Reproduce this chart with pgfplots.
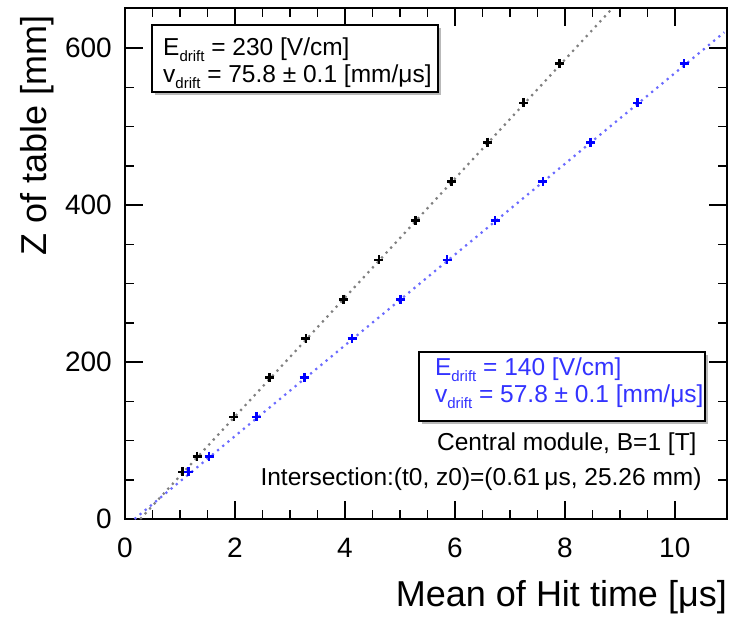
\documentclass[border=0pt]{standalone}
\usepackage{fontspec}
\setmainfont{Liberation Sans}
\usepackage{pgfplots}
\pgfplotsset{compat=1.18}
\definecolor{mblue}{rgb}{0,0,1}
\definecolor{lblue}{rgb}{0.42,0.42,1}
\definecolor{tblue}{rgb}{0.2,0.2,1}
\newcommand{\sub}[1]{\raisebox{-0.28em}{\fontsize{15}{15}\selectfont #1}}
\newcommand{\bfs}{\fontsize{24.5}{27}\selectfont}
\begin{document}
\begin{tikzpicture}
\useasboundingbox (0,0) rectangle (730pt,616pt);
\begin{axis}[
 at={(125pt,97pt)}, anchor=south west,
 scale only axis, width=602pt, height=511pt,
 xmin=0, xmax=10.95, ymin=0, ymax=651,
 xtick={0,2,...,10}, ytick={0,200,400,600},
 minor x tick num=3, minor y tick num=3,
 tick align=inside,
 major tick length=18pt, minor tick length=9pt,
 every tick/.style={black, line width=1.5pt},
 axis line style={line width=2pt},
 /pgf/number format/assume math mode=true,
 ticklabel style={font=\fontsize{28}{30}\selectfont, inner sep=0pt},
 xticklabel style={anchor=north, yshift=-19pt},
 yticklabel style={anchor=east, xshift=-13pt},
 xlabel={Mean of Hit time [μs]}, ylabel={Z of table [mm]},
 label style={font=\fontsize{36}{40}\selectfont, inner sep=0pt},
 xlabel style={at={(axis description cs:1,-0.1722)}, anchor=base east},
 ylabel style={at={(axis description cs:-0.1312,0.9863)}, anchor=base east},
]
\addplot[black!50, dash pattern={on 2.2pt off 4.5pt}, line width=2.2pt] coordinates {(0.277,0) (8.87,651)};
\addplot[lblue, dash pattern={on 2.2pt off 4.5pt}, line width=2.2pt] coordinates {(0.173,0) (10.9,620)};
\addplot[only marks, mark=+, mark size=4.5pt, black, line width=2.6pt] coordinates {
(1.05,60) (1.31,80) (1.98,130) (2.63,180) (3.29,230) (3.97,280) (4.62,330) (5.28,380) (5.94,430) (6.59,480) (7.25,530) (7.90,580)};
\addplot[only marks, mark=+, mark size=4.5pt, mblue, line width=2.6pt] coordinates {
(1.16,60) (1.53,80) (2.39,130) (3.26,180) (4.13,230) (5.01,280) (5.86,330) (6.73,380) (7.60,430) (8.47,480) (9.32,530) (10.17,580)};
% box 1
\fill[gray!55] (axis cs:0.545,625.5) rectangle (axis cs:5.745,540.1);
\draw[fill=white, line width=2pt] (axis cs:0.491,629.3) rectangle (axis cs:5.691,543.9);
\node[anchor=base west, inner sep=0pt, font=\bfs] at (axis cs:0.691,591.1) {E\sub{drift} = 230 [V/cm]};
\node[anchor=base west, inner sep=0pt, font=\bfs] at (axis cs:0.691,556.7) {v\sub{drift} = 75.8 ± 0.1 [mm/μs]};
% box 2
\fill[gray!55] (axis cs:5.399,208.9) rectangle (axis cs:10.599,121.0);
\draw[fill=white, line width=2pt] (axis cs:5.345,212.7) rectangle (axis cs:10.545,124.8);
\node[anchor=base west, inner sep=0pt, font=\bfs, text=tblue] at (axis cs:5.636,183.4) {E\sub{drift} = 140 [V/cm]};
\node[anchor=base west, inner sep=0pt, font=\bfs, text=tblue] at (axis cs:5.636,149.0) {v\sub{drift} = 57.8 ± 0.1 [mm/μs]};
\node[anchor=base east, inner sep=0pt, font=\bfs] at (axis cs:10.40,87.9) {Central module, B=1 [T]};
\node[anchor=base east, inner sep=0pt, font=\bfs] at (axis cs:10.49,43.3) {Intersection:(t0, z0)=(0.61\,μs, 25.26 mm)};
\end{axis}
\end{tikzpicture}
\end{document}
